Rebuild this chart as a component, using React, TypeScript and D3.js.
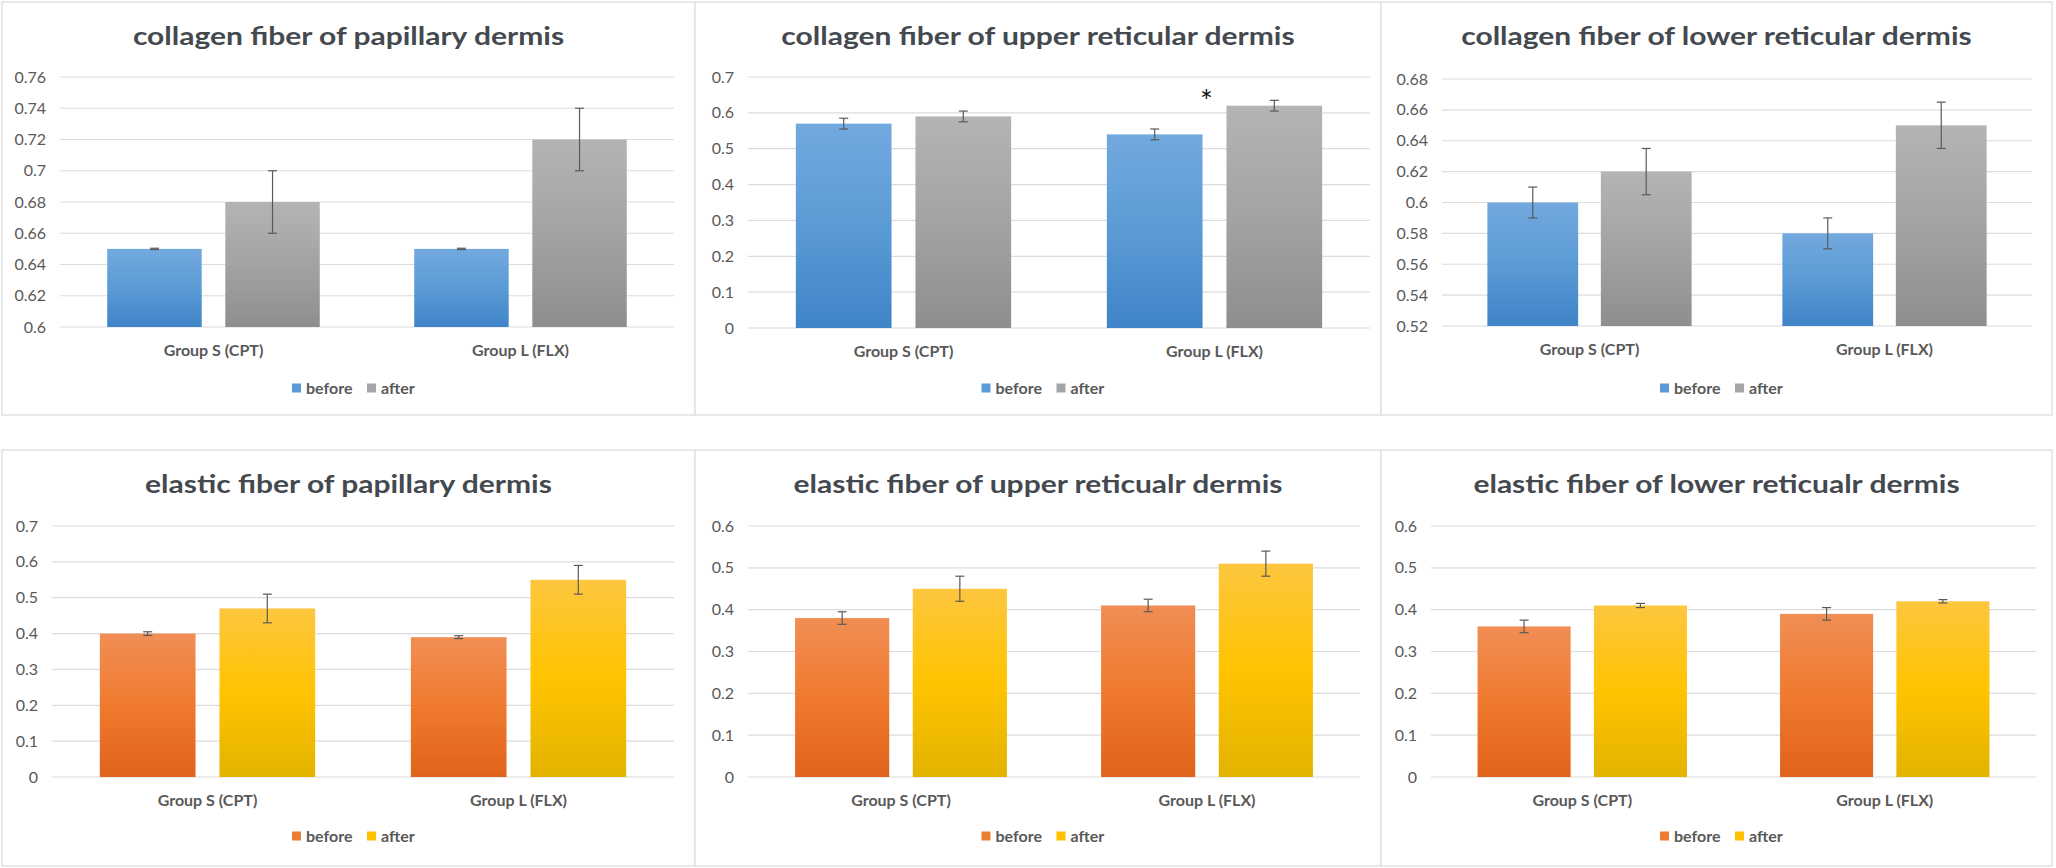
import React from "react";
import * as d3 from "d3";

// ---------- data ----------
const categories = ["Group S (CPT)", "Group L (FLX)"];
const seriesNames = ["before", "after"];

const collagenPapillaryBefore = [0.65, 0.65];
const collagenPapillaryBeforeErr = [0.0004, 0.0004];
const collagenPapillaryAfter = [0.68, 0.72];
const collagenPapillaryAfterErr = [0.02, 0.02];
const collagenPapillaryTicks = [0.6, 0.62, 0.64, 0.66, 0.68, 0.7, 0.72, 0.74, 0.76];

const collagenUpperBefore = [0.57, 0.54];
const collagenUpperBeforeErr = [0.015, 0.015];
const collagenUpperAfter = [0.59, 0.62];
const collagenUpperAfterErr = [0.015, 0.015];
const collagenUpperTicks = [0, 0.1, 0.2, 0.3, 0.4, 0.5, 0.6, 0.7];

const collagenLowerBefore = [0.6, 0.58];
const collagenLowerBeforeErr = [0.01, 0.01];
const collagenLowerAfter = [0.62, 0.65];
const collagenLowerAfterErr = [0.015, 0.015];
const collagenLowerTicks = [0.52, 0.54, 0.56, 0.58, 0.6, 0.62, 0.64, 0.66, 0.68];

const elasticPapillaryBefore = [0.4, 0.39];
const elasticPapillaryBeforeErr = [0.005, 0.004];
const elasticPapillaryAfter = [0.47, 0.55];
const elasticPapillaryAfterErr = [0.04, 0.04];
const elasticPapillaryTicks = [0, 0.1, 0.2, 0.3, 0.4, 0.5, 0.6, 0.7];

const elasticUpperBefore = [0.38, 0.41];
const elasticUpperBeforeErr = [0.015, 0.015];
const elasticUpperAfter = [0.45, 0.51];
const elasticUpperAfterErr = [0.03, 0.03];
const elasticUpperTicks = [0, 0.1, 0.2, 0.3, 0.4, 0.5, 0.6];

const elasticLowerBefore = [0.36, 0.39];
const elasticLowerBeforeErr = [0.015, 0.015];
const elasticLowerAfter = [0.41, 0.42];
const elasticLowerAfterErr = [0.005, 0.004];
const elasticLowerTicks = [0, 0.1, 0.2, 0.3, 0.4, 0.5, 0.6];

const titles = [
  "collagen fiber of papillary dermis",
  "collagen fiber of upper reticular dermis",
  "collagen fiber of lower reticular dermis",
  "elastic fiber of papillary dermis",
  "elastic fiber of upper reticualr dermis",
  "elastic fiber of lower reticualr dermis",
];

// ---------- styles ----------
const FONT = "Lato, 'Open Sans', sans-serif";
const palettes = {
  collagen: {
    solid: ["#5b9bd5", "#a5a5a5"],
    grad: [
      ["#72a9df", "#5b9bd5", "#3f84c8"],
      ["#b4b4b4", "#a3a3a3", "#8e8e8e"],
    ],
  },
  elastic: {
    solid: ["#ed7d31", "#ffc000"],
    grad: [
      ["#f18e55", "#ef7a2e", "#e0631b"],
      ["#fdc63f", "#ffc400", "#e3b300"],
    ],
  },
};

type Panel = {
  id: string;
  title: string;
  kind: "collagen" | "elastic";
  box: [number, number, number, number]; // x0,y0,x1,y1
  plot: [number, number, number, number]; // left, top, right, bottom
  ticks: number[];
  values: number[][];
  errors: number[][];
  star?: number; // category index with significance mark
};

const panels: Panel[] = [
  {
    id: "p1", title: titles[0], kind: "collagen",
    box: [2, 2, 695, 415], plot: [60, 77, 674, 327],
    ticks: collagenPapillaryTicks,
    values: [collagenPapillaryBefore, collagenPapillaryAfter],
    errors: [collagenPapillaryBeforeErr, collagenPapillaryAfterErr],
  },
  {
    id: "p2", title: titles[1], kind: "collagen",
    box: [695, 2, 1381, 415], plot: [748, 77, 1370, 328],
    ticks: collagenUpperTicks,
    values: [collagenUpperBefore, collagenUpperAfter],
    errors: [collagenUpperBeforeErr, collagenUpperAfterErr],
    star: 1,
  },
  {
    id: "p3", title: titles[2], kind: "collagen",
    box: [1381, 2, 2052, 415], plot: [1442, 79, 2032, 326],
    ticks: collagenLowerTicks,
    values: [collagenLowerBefore, collagenLowerAfter],
    errors: [collagenLowerBeforeErr, collagenLowerAfterErr],
  },
  {
    id: "p4", title: titles[3], kind: "elastic",
    box: [2, 450, 695, 866], plot: [52, 526, 674, 777],
    ticks: elasticPapillaryTicks,
    values: [elasticPapillaryBefore, elasticPapillaryAfter],
    errors: [elasticPapillaryBeforeErr, elasticPapillaryAfterErr],
  },
  {
    id: "p5", title: titles[4], kind: "elastic",
    box: [695, 450, 1381, 866], plot: [748, 526, 1360, 777],
    ticks: elasticUpperTicks,
    values: [elasticUpperBefore, elasticUpperAfter],
    errors: [elasticUpperBeforeErr, elasticUpperAfterErr],
  },
  {
    id: "p6", title: titles[5], kind: "elastic",
    box: [1381, 450, 2052, 866], plot: [1431, 526, 2036, 777],
    ticks: elasticLowerTicks,
    values: [elasticLowerBefore, elasticLowerAfter],
    errors: [elasticLowerBeforeErr, elasticLowerAfterErr],
  },
];

const fmt = (v: number) => String(+v.toFixed(2));

function ChartPanel({ p }: { p: Panel }) {
  const [bx0, by0, bx1, by1] = p.box;
  const [L, T, R, B] = p.plot;
  const pal = palettes[p.kind];
  const y = d3
    .scaleLinear()
    .domain([p.ticks[0], p.ticks[p.ticks.length - 1]])
    .range([B, T]);
  const x0 = d3.scaleBand<string>().domain(categories).range([L, R]).padding(0);
  const x1 = d3
    .scaleBand<string>()
    .domain(seriesNames)
    .range([0, x0.bandwidth()])
    .paddingInner(0.2)
    .paddingOuter(0.4);
  const cx = (bx0 + bx1) / 2;

  // legend layout
  const sq = 9;
  const legendWidths = [47, 34];
  const gapSqText = 5;
  const gapItems = 14;
  const totalLegend =
    sq + gapSqText + legendWidths[0] + gapItems + sq + gapSqText + legendWidths[1];
  let lx = cx + 5 - totalLegend / 2;
  const legendY = by0 + 386;
  const legendItems = seriesNames.map((s, i) => {
    const item = { s, i, x: lx };
    lx += sq + gapSqText + legendWidths[i] + gapItems;
    return item;
  });

  return (
    <g>
      <rect
        x={bx0}
        y={by0}
        width={bx1 - bx0}
        height={by1 - by0}
        fill="#ffffff"
        stroke="#e2e2e2"
        strokeWidth={1.5}
      />
      <defs>
        {pal.grad.map((g, i) => (
          <linearGradient key={i} id={`${p.id}-g${i}`} x1="0" y1="0" x2="0" y2="1">
            <stop offset="0%" stopColor={g[0]} />
            <stop offset="50%" stopColor={g[1]} />
            <stop offset="100%" stopColor={g[2]} />
          </linearGradient>
        ))}
      </defs>
      <text
        transform={`translate(${cx},${by0 + 43}) scale(1.25,1)`}
        textAnchor="middle"
        fontFamily={FONT}
        fontWeight={700}
        fontSize={24}
        fill="#44494f"
      >
        {p.title}
      </text>
      {p.ticks.map((t) => (
        <g key={t}>
          <line x1={L} x2={R} y1={y(t)} y2={y(t)} stroke="#dcdcdc" strokeWidth={1.2} />
          <text
            x={L - 14}
            y={y(t)}
            dy="0.35em"
            textAnchor="end"
            fontFamily={FONT}
            fontSize={16}
            fill="#595959"
          >
            {fmt(t)}
          </text>
        </g>
      ))}
      {categories.map((c, ci) => (
        <g key={c}>
          {seriesNames.map((s, si) => {
            const v = p.values[si][ci];
            const e = p.errors[si][ci];
            const bx = (x0(c) as number) + (x1(s) as number);
            const bw = x1.bandwidth();
            const mx = bx + bw / 2;
            return (
              <g key={s}>
                <rect
                  x={bx}
                  y={y(v)}
                  width={bw}
                  height={B - y(v)}
                  fill={`url(#${p.id}-g${si})`}
                />
                <line x1={mx} x2={mx} y1={y(v + e)} y2={y(v - e)} stroke="#5a5a5a" strokeWidth={1.2} />
                <line x1={mx - 4.5} x2={mx + 4.5} y1={y(v + e)} y2={y(v + e)} stroke="#5a5a5a" strokeWidth={1.2} />
                <line x1={mx - 4.5} x2={mx + 4.5} y1={y(v - e)} y2={y(v - e)} stroke="#5a5a5a" strokeWidth={1.2} />
              </g>
            );
          })}
          <text
            x={(x0(c) as number) + x0.bandwidth() / 2}
            y={B + 23}
            dy="0.35em"
            textAnchor="middle"
            fontFamily={FONT}
            fontWeight={700}
            fontSize={16}
            fill="#595959"
          >
            {c}
          </text>
        </g>
      ))}
      {p.star !== undefined && (
        <text
          x={(x0(categories[p.star]) as number) + x0.bandwidth() / 2 - 8}
          y={y(p.values[1][p.star] + p.errors[1][p.star])}
          dy="0.4em"
          textAnchor="middle"
          fontFamily={FONT}
          fontSize={30}
          fill="#111111"
        >
          *
        </text>
      )}
      {legendItems.map(({ s, i, x }) => (
        <g key={s}>
          <rect x={x} y={legendY - sq / 2} width={sq} height={sq} fill={pal.solid[i]} />
          <text
            x={x + sq + gapSqText}
            y={legendY}
            dy="0.35em"
            fontFamily={FONT}
            fontWeight={700}
            fontSize={16}
            fill="#595959"
          >
            {s}
          </text>
        </g>
      ))}
    </g>
  );
}

export default function App() {
  return (
    <svg
      width={2056}
      height={868}
      viewBox="0 0 2056 868"
      style={{ position: "absolute", left: 0, top: 0, display: "block", background: "#ffffff" }}
    >
      <rect x={0} y={0} width={2056} height={868} fill="#ffffff" />
      {panels.map((p) => (
        <ChartPanel key={p.id} p={p} />
      ))}
    </svg>
  );
}
